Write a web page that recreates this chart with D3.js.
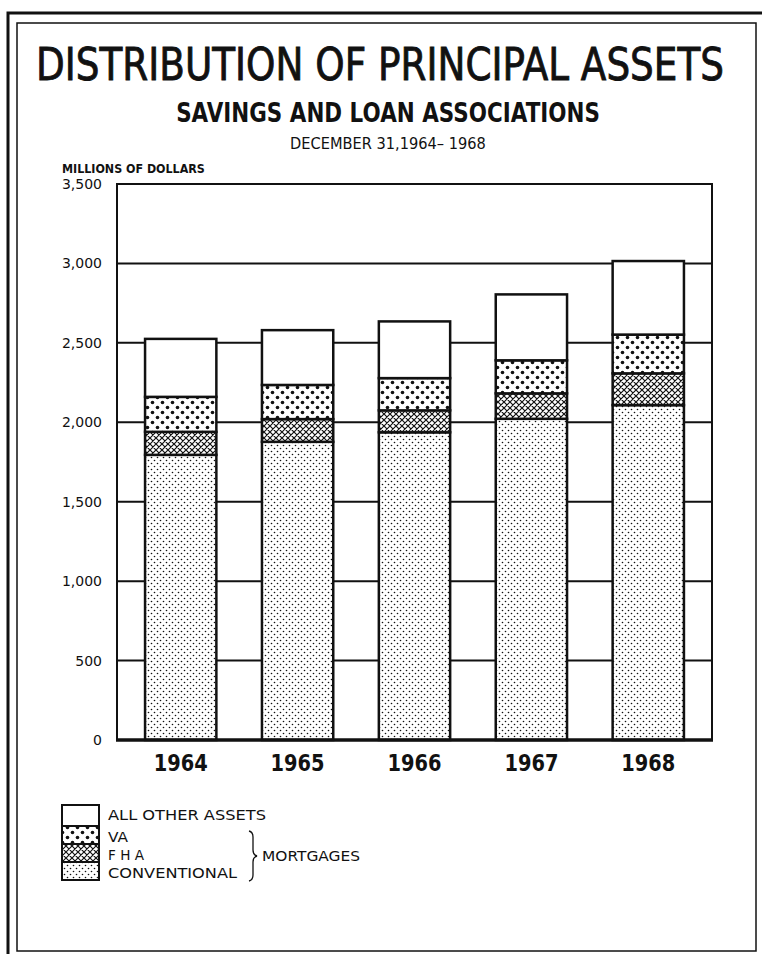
<!DOCTYPE html>
<html>
<head>
<meta charset="utf-8">
<script src="https://cdn.jsdelivr.net/npm/d3@7"></script>
<style>
  body { margin: 0; background: #fff; }
  svg { display: block; }
  text { font-family: "DejaVu Sans", "Liberation Sans", sans-serif; fill: #111; }
</style>
</head>
<body>
<div id="chart"></div>
<script>
/*---------- données ----------*/
var years = ["1964", "1965", "1966", "1967", "1968"];
var conventional = [1795, 1877, 1937, 2022, 2108];
var fha = [145, 143, 138, 160, 200];
var va = [220, 215, 203, 208, 244];
var otherAssets = [365, 345, 357, 415, 463];
var yTicks = [0, 500, 1000, 1500, 2000, 2500, 3000, 3500];
var seriesKeys = ["conventional", "fha", "va", "other"];
var legendLabels = ["ALL OTHER ASSETS", "VA", "F H A", "CONVENTIONAL"];

var width = 762, height = 954;
var plot = {left: 117, right: 712, top: 184, bottom: 740};

var rows = years.map(function(y, i) {
    return {year: y, conventional: conventional[i], fha: fha[i], va: va[i], other: otherAssets[i]};
});

var svg = d3.select("#chart").append("svg")
    .attr("width", width)
    .attr("height", height);

// ajuste un texte à une largeur donnée (échelle horizontale)
function fitText(sel, cx, y, w, anchor) {
    var natural = sel.node().getComputedTextLength();
    var sx = w / natural;
    sel.attr("x", 0).attr("y", 0)
        .attr("text-anchor", anchor || "middle")
        .attr("transform", "translate(" + cx + "," + y + ") scale(" + sx + ",1)");
    return sel;
}

// motifs de remplissage
var defs = svg.append("defs");

var pConv = defs.append("pattern").attr("id", "p-conventional")
    .attr("patternUnits", "userSpaceOnUse").attr("width", 6).attr("height", 6);
pConv.append("rect").attr("width", 6).attr("height", 6).attr("fill", "#fff");
pConv.append("circle").attr("cx", 1.5).attr("cy", 1.5).attr("r", 0.8).attr("fill", "#111");
pConv.append("circle").attr("cx", 4.5).attr("cy", 4.5).attr("r", 0.8).attr("fill", "#111");

var pFha = defs.append("pattern").attr("id", "p-fha")
    .attr("patternUnits", "userSpaceOnUse").attr("width", 6).attr("height", 6);
pFha.append("rect").attr("width", 6).attr("height", 6).attr("fill", "#fff");
pFha.append("path").attr("d", "M-1,-1L7,7M-1,5L1,7M5,-1L7,1M7,-1L-1,7M1,-1L-1,1M7,5L5,7")
    .attr("stroke", "#111").attr("stroke-width", 1.2);

var pVa = defs.append("pattern").attr("id", "p-va")
    .attr("patternUnits", "userSpaceOnUse").attr("width", 10).attr("height", 10);
pVa.append("rect").attr("width", 10).attr("height", 10).attr("fill", "#fff");
pVa.append("circle").attr("cx", 2.5).attr("cy", 2.5).attr("r", 1.8).attr("fill", "#111");
pVa.append("circle").attr("cx", 7.5).attr("cy", 7.5).attr("r", 1.8).attr("fill", "#111");

var fills = {conventional: "url(#p-conventional)", fha: "url(#p-fha)", va: "url(#p-va)", other: "#fff"};

// cadre de la page
svg.append("path")
    .attr("d", "M8,954V13H762")
    .attr("fill", "none").attr("stroke", "#111").attr("stroke-width", 3);
svg.append("rect")
    .attr("x", 17).attr("y", 23).attr("width", 739).attr("height", 928)
    .attr("fill", "none").attr("stroke", "#111").attr("stroke-width", 1.5);

// titres
fitText(svg.append("text")
    .style("font-size", "45px")
    .attr("stroke", "#111").attr("stroke-width", 0.9)
    .text("DISTRIBUTION OF PRINCIPAL ASSETS"), 380, 80, 688);

fitText(svg.append("text")
    .style("font-size", "27px").style("font-weight", "bold")
    .text("SAVINGS AND LOAN ASSOCIATIONS"), 388, 122, 424);

fitText(svg.append("text")
    .style("font-size", "16px")
    .text("DECEMBER 31,1964\u2013 1968"), 388, 149, 196);

fitText(svg.append("text")
    .style("font-size", "12px").style("font-weight", "bold")
    .text("MILLIONS OF DOLLARS"), 62, 173, 143, "start");

// échelles
var xScale = d3.scaleBand()
    .domain(years)
    .range([plot.left, plot.right])
    .paddingInner(0.39)
    .paddingOuter(0.24);

var yScale = d3.scaleLinear()
    .domain([0, 3500])
    .range([plot.bottom, plot.top]);

// grille horizontale
svg.append("g")
    .selectAll("line")
    .data(yTicks.filter(function(d) { return d > 0 && d < 3500; }))
    .enter()
    .append("line")
    .attr("x1", plot.left).attr("x2", plot.right)
    .attr("y1", function(d) { return yScale(d); })
    .attr("y2", function(d) { return yScale(d); })
    .attr("stroke", "#111").attr("stroke-width", 2);

// cadre du graphique
svg.append("path")
    .attr("d", "M" + plot.left + "," + yScale(0) + "V" + yScale(3500) + "H" + plot.right + "V" + yScale(0))
    .attr("fill", "none").attr("stroke", "#111").attr("stroke-width", 2);

// axe vertical (étiquettes seulement)
var yAxis = svg.append("g")
    .attr("transform", "translate(" + plot.left + ",0)")
    .call(d3.axisLeft(yScale).tickValues(yTicks).tickFormat(d3.format(",")).tickSize(0).tickPadding(15));
yAxis.select(".domain").remove();
yAxis.selectAll("text")
    .style("font-family", "DejaVu Sans, sans-serif")
    .style("font-size", "14px")
    .attr("fill", "#111");

// barres empilées
var stacked = d3.stack().keys(seriesKeys)(rows);

var layers = svg.append("g").selectAll("g")
    .data(stacked)
    .enter()
    .append("g")
    .attr("fill", function(d) { return fills[d.key]; });

layers.selectAll("rect")
    .data(function(d) { return d; })
    .enter()
    .append("rect")
    .attr("x", function(d) { return xScale(d.data.year); })
    .attr("width", xScale.bandwidth())
    .attr("y", function(d) { return yScale(d[1]); })
    .attr("height", function(d) { return yScale(d[0]) - yScale(d[1]); })
    .attr("stroke", "#111")
    .attr("stroke-width", 2.5);

// axe horizontal
svg.append("line")
    .attr("x1", plot.left - 1).attr("x2", plot.right + 1)
    .attr("y1", yScale(0)).attr("y2", yScale(0))
    .attr("stroke", "#111").attr("stroke-width", 3.5);

var xAxis = svg.append("g")
    .attr("transform", "translate(0," + yScale(0) + ")")
    .call(d3.axisBottom(xScale).tickSize(0).tickPadding(15));
xAxis.select(".domain").remove();
xAxis.selectAll("text")
    .style("font-family", "DejaVu Sans, sans-serif")
    .style("font-size", "23px")
    .style("font-weight", "bold")
    .attr("textLength", 54)
    .attr("lengthAdjust", "spacingAndGlyphs")
    .attr("fill", "#111");

// légende
var legendKeys = ["other", "va", "fha", "conventional"];
var legendY = [805, 826, 844, 862, 880];
var legend = svg.append("g");

legend.selectAll("rect")
    .data(legendKeys)
    .enter()
    .append("rect")
    .attr("x", 62)
    .attr("y", function(d, i) { return legendY[i]; })
    .attr("width", 37)
    .attr("height", function(d, i) { return legendY[i + 1] - legendY[i]; })
    .attr("fill", function(d) { return fills[d]; })
    .attr("stroke", "#111")
    .attr("stroke-width", 2);

var legendTextY = [820, 842, 860, 878];
var legendWidths = [158, 20, 36, 129];
legend.selectAll("text")
    .data(legendLabels)
    .enter()
    .append("text")
    .attr("x", 108)
    .attr("y", function(d, i) { return legendTextY[i]; })
    .attr("textLength", function(d, i) { return legendWidths[i]; })
    .attr("lengthAdjust", "spacingAndGlyphs")
    .style("font-size", "14px")
    .text(function(d) { return d; });

// accolade des hypothèques
legend.append("path")
    .attr("d", "M249,831 Q253,832 253,837 L253,850 Q253,855 257,856 Q253,857 253,862 L253,875 Q253,880 249,881")
    .attr("fill", "none").attr("stroke", "#111").attr("stroke-width", 1.3);

legend.append("text")
    .attr("x", 262).attr("y", 861)
    .attr("textLength", 98).attr("lengthAdjust", "spacingAndGlyphs")
    .style("font-size", "14px")
    .text("MORTGAGES");
</script>
</body>
</html>
